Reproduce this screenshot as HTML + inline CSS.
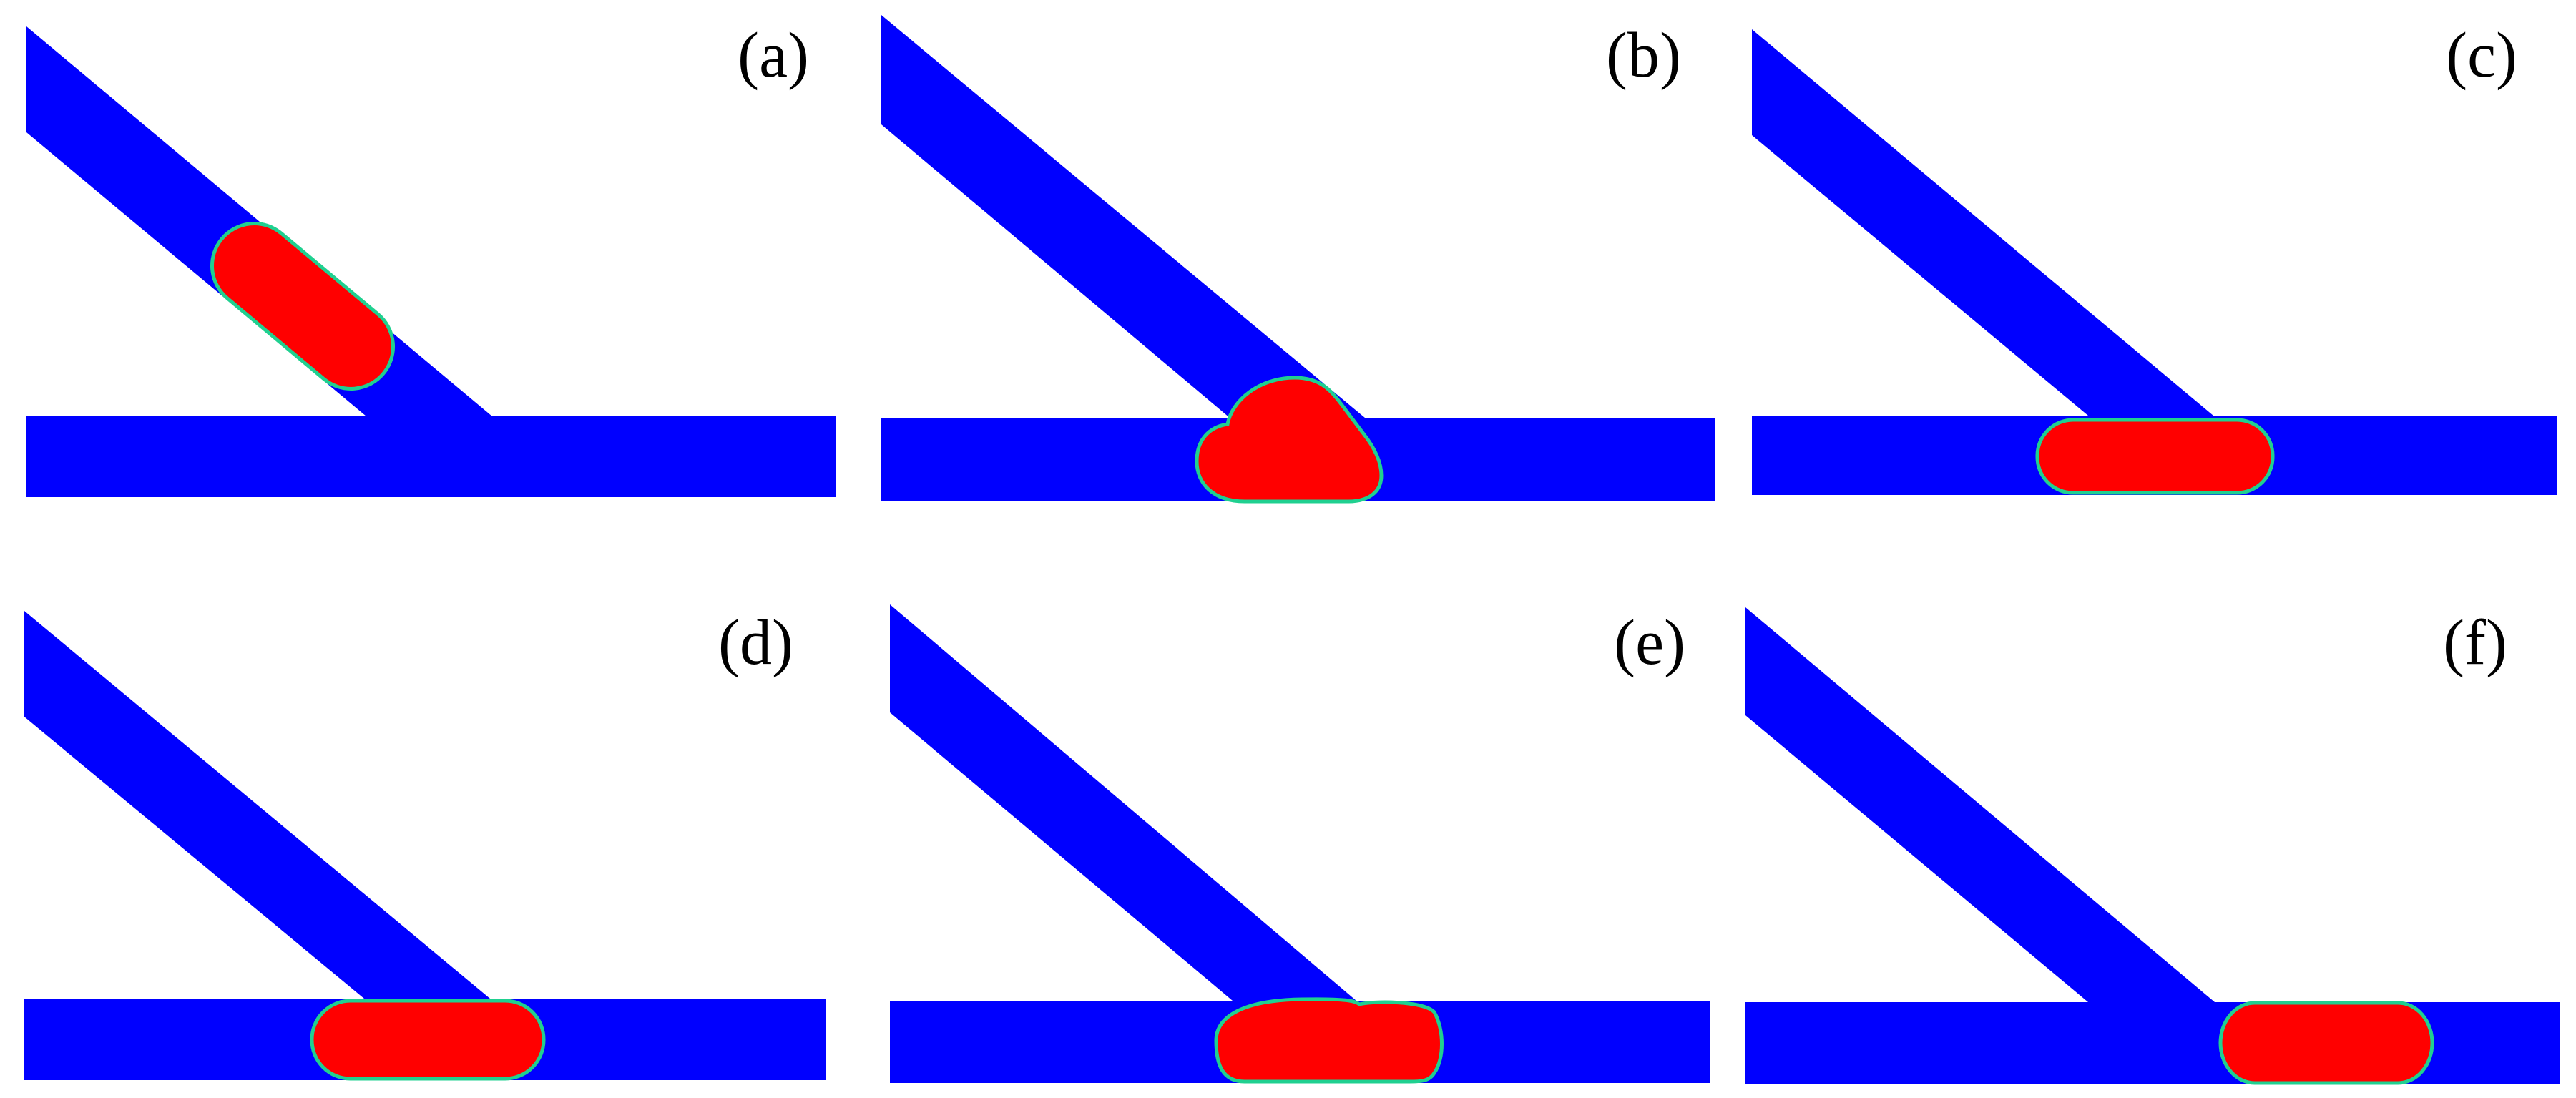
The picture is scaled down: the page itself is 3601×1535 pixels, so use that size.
<!DOCTYPE html>
<html><head><meta charset="utf-8"><style>html,body{margin:0;padding:0;background:#fff}svg{display:block}</style></head>
<body>
<svg width="3601" height="1535" viewBox="0 0 3601 1535" xmlns="http://www.w3.org/2000/svg">
<rect width="3601" height="1535" fill="#fff"/>
<g fill="#0000ff">
<polygon points="37,37 688,582 512,582 37,185"/><rect x="37" y="582" width="1132" height="113"/>
<polygon points="1232,21 1908,584 1719,584 1232,174"/><rect x="1232" y="584" width="1166" height="117"/>
<polygon points="2449,41 3094,581 2919,581 2449,189"/><rect x="2449" y="581" width="1125" height="111"/>
<polygon points="34,854 685,1396 509,1396 34,1002"/><rect x="34" y="1396" width="1121" height="114"/>
<polygon points="1244,845 1896,1399 1723,1399 1244,996"/><rect x="1244" y="1399" width="1147" height="115"/>
<polygon points="2440,849 3096,1401 2919,1401 2440,1000"/><rect x="2440" y="1401" width="1138" height="114"/>
</g>
<g fill="#ff0000" stroke="#20d090" stroke-width="5">
<rect x="276" y="369" width="294" height="118" rx="59" transform="rotate(39.9 423 428)"/>
<path d="M1740,701 C1695,701 1673,675 1673,645 C1673,615 1690,597 1716,593 C1722,560 1760,528 1810,528 C1845,528 1860,545 1875,565 L1905,605 C1925,630 1931,650 1931,665 C1931,690 1910,701 1885,701 Z"/>
<rect x="2848" y="587" width="329" height="102" rx="50"/>
<rect x="436" y="1399" width="324" height="109" rx="54"/>
<path d="M1740,1512 C1710,1512 1700,1490 1700,1455 C1700,1420 1740,1398 1820,1397 C1880,1396 1895,1399 1900,1404 C1920,1399 1990,1399 2005,1415 C2019,1440 2019,1480 2005,1500 C1998,1512 1985,1512 1970,1512 Z"/>
<rect x="3104" y="1402" width="296" height="112" rx="48" ry="56"/>
</g>
<g font-family="Liberation Serif, serif" font-size="90" fill="#000" text-anchor="end">
<text x="1131" y="107">(a)</text>
<text x="2350" y="107">(b)</text>
<text x="3519" y="107">(c)</text>
<text x="1109" y="928">(d)</text>
<text x="2356" y="928">(e)</text>
<text x="3505" y="928">(f)</text>
</g>
</svg>
</body></html>
